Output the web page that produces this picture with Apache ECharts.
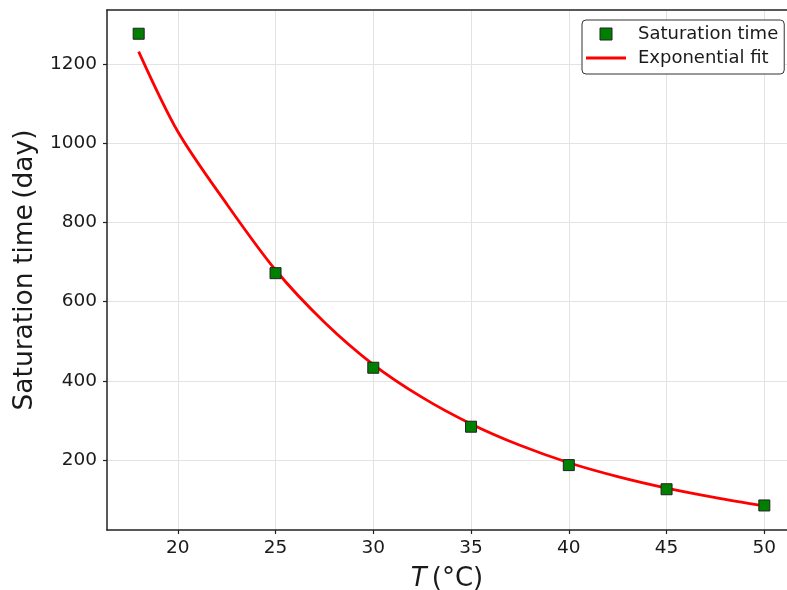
<!DOCTYPE html>
<html>
<head>
<meta charset="utf-8">
<script src="https://cdn.jsdelivr.net/npm/echarts@6/dist/echarts.min.js"></script>
<style>
html,body{margin:0;padding:0;background:#fff;}
#chart{width:787px;height:590px;}
</style>
</head>
<body>
<div id="chart"></div>
<script>
// Measured data points
var tempPoints = [18, 25, 30, 35, 40, 45, 50];
var satTime = [1277, 672, 433, 284, 187, 126, 85];
// Exponential fit curve
var fitTemps = [18, 20, 22.5, 25, 27.5, 30, 32.5, 35, 37.5, 40, 42.5, 45, 47.5, 50];
var fitValues = [1232, 1030, 847, 680, 548, 441, 358, 291, 237, 193, 158, 129, 105, 84];
// Tick labels
var xTicks = [20, 25, 30, 35, 40, 45, 50];
var yTicks = [200, 400, 600, 800, 1000, 1200];

var FONT = 'DejaVu Sans';
var X_MIN = 16.38, X_MAX = 51.16;
var chart = echarts.init(document.getElementById('chart'), null, {renderer: 'canvas'});

var scatterData = tempPoints.map(function (t, i) { return [t, satTime[i]]; });
var fitData = fitTemps.map(function (t, i) { return [t, fitValues[i]]; });

chart.setOption({
  animation: false,
  backgroundColor: '#ffffff',
  grid: {
    left: 107, top: 10, bottom: 60, right: 0,
    containLabel: false,
    outerBoundsMode: 'none',
    show: false
  },
  legend: {
    orient: 'vertical',
    left: 582, top: 20,
    padding: [5, 6, 7, 4],
    itemGap: 6,
    itemWidth: 40, itemHeight: 12,
    borderColor: '#333', borderWidth: 1, borderRadius: 4,
    backgroundColor: '#fff',
    textStyle: {fontFamily: FONT, fontSize: 18, color: '#1a1a1a', padding: [0, 0, 0, 7]},
    data: [
      {name: 'Saturation time', icon: 'path://M0,0L10,0L10,10L0,10Z',
       itemStyle: {color: '#008000', borderColor: '#222', borderWidth: 1}},
      {name: 'Exponential fit', icon: 'path://M0,0L40,0L40,2.8L0,2.8Z',
       itemStyle: {color: '#ff0000', borderWidth: 0}}
    ]
  },
  xAxis: [{
    type: 'value',
    position: 'bottom',
    min: X_MIN, max: X_MAX,
    name: '{i|T}\u2009(°C)',
    nameLocation: 'middle',
    nameGap: 36,
    nameTextStyle: {
      fontFamily: FONT, fontSize: 26, color: '#1a1a1a',
      rich: {i: {fontFamily: FONT, fontSize: 26, fontStyle: 'italic', color: '#1a1a1a'}}
    },
    axisLine: {show: true, onZero: false, lineStyle: {color: '#222', width: 1.5}},
    axisTick: {show: true, length: 4, customValues: xTicks, lineStyle: {color: '#222', width: 1.2}},
    axisLabel: {customValues: xTicks, fontFamily: FONT, fontSize: 18.5, color: '#1a1a1a', margin: 9,
      formatter: function (v) { return String(v); }},
    splitLine: {show: true, lineStyle: {color: '#e3e3e3', width: 1}}
  }, {
    type: 'value',
    position: 'top',
    min: X_MIN, max: X_MAX,
    axisLine: {show: true, onZero: false, lineStyle: {color: '#222', width: 1.5}},
    axisTick: {show: false},
    axisLabel: {show: false},
    splitLine: {show: false}
  }],
  yAxis: {
    type: 'value',
    min: 23, max: 1337,
    name: 'Saturation time\u2009(day)',
    nameLocation: 'middle',
    nameGap: 59,
    nameRotate: 90,
    nameTextStyle: {fontFamily: FONT, fontSize: 26.5, color: '#1a1a1a'},
    axisLine: {show: true, onZero: false, lineStyle: {color: '#222', width: 1.5}},
    axisTick: {show: true, length: 4, customValues: yTicks, lineStyle: {color: '#222', width: 1.2}},
    axisLabel: {customValues: yTicks, fontFamily: FONT, fontSize: 18.5, color: '#1a1a1a', margin: 10,
      formatter: function (v) { return String(v); }},
    splitLine: {show: true, lineStyle: {color: '#e3e3e3', width: 1}}
  },
  series: [
    {
      name: 'Saturation time',
      type: 'scatter',
      xAxisIndex: 0,
      data: scatterData,
      symbol: 'rect',
      symbolSize: 11,
      itemStyle: {color: '#008000', borderColor: '#222', borderWidth: 1, opacity: 1},
      z: 5
    },
    {
      name: 'Exponential fit',
      type: 'line',
      xAxisIndex: 0,
      data: fitData,
      smooth: 0.3,
      symbol: 'none',
      showSymbol: false,
      lineStyle: {color: '#ff0000', width: 2.8},
      itemStyle: {color: '#ff0000'},
      z: 3
    }
  ]
});
</script>
</body>
</html>
